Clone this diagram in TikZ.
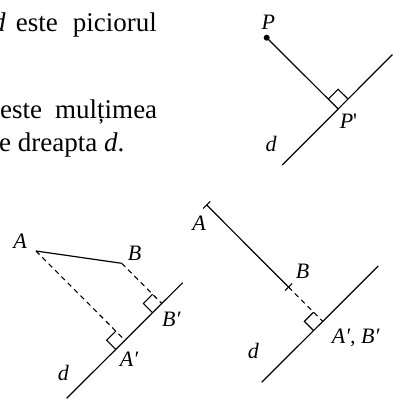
\documentclass[tikz,border=0pt]{standalone}
\usepackage{fontspec}
\setmainfont{Liberation Serif}
\usetikzlibrary{calc}
\begin{document}
\begin{tikzpicture}[x=1pt,y=-1pt,
  ln/.style={line width=1.2pt},
  dsh/.style={line width=1.1pt, dash pattern=on 5pt off 4pt},
  mk/.style={line width=1.1pt},
  lbl/.style={inner sep=0pt, font=\fontsize{22}{26}\selectfont\itshape},
  txt/.style={inner sep=0pt, font=\fontsize{27}{34}\selectfont}]
\useasboundingbox (0,0) rectangle (393,400);

% paragraph text (cut at the left edge)
\node[txt, anchor=base west] (t0) at (-8,31) {\textit{d}};
\node[txt, anchor=base east] (t1) at (157,31) {\makebox[141pt][s]{este piciorul}};
\node[txt, anchor=base west] (t2) at (0,118) {\makebox[157pt][s]{este mulțimea}};
\node[txt, anchor=base west] (t3) at (-1,151) {e dreapta \textit{d}.};

% top right figure
\coordinate (d2a) at (282.3,165);
\coordinate (d2b) at (392.5,54.5);
\coordinate (P) at (266.7,37.7);
\coordinate (Pf) at ($(d2a)!(P)!(d2b)$);
\coordinate (Pq) at ($(Pf)!14pt!(P)$);
\coordinate (Pr) at ($(Pf)!14pt!(d2b)$);
\coordinate (Pc) at ($(Pq)+(Pr)-(Pf)$);
\draw[ln] (d2a) -- (d2b);
\draw[ln] (P) -- (Pf);
\fill (P) circle (3pt);
\draw[mk] (Pq) -- (Pc) -- (Pr);
\node[lbl] (Pl) at (268.3,22.5) {P};
\node[lbl] (Ppl) at (348.5,121) {P\upshape\textquotesingle};
\node[lbl] (dl2) at (271,144) {d};

% bottom left figure
\coordinate (d1a) at (66.7,398.3);
\coordinate (d1b) at (182.7,282.7);
\coordinate (A1) at (36,251);
\coordinate (B1) at (121.7,263.3);
\coordinate (A1f) at ($(d1a)!(A1)!(d1b)$);
\coordinate (B1f) at ($(d1a)!(B1)!(d1b)$);
\coordinate (A1q) at ($(A1f)!13pt!(A1)$);
\coordinate (A1r) at ($(A1f)!13pt!(d1a)$);
\coordinate (A1c) at ($(A1q)+(A1r)-(A1f)$);
\coordinate (B1q) at ($(B1f)!13pt!(B1)$);
\coordinate (B1r) at ($(B1f)!13pt!(d1a)$);
\coordinate (B1c) at ($(B1q)+(B1r)-(B1f)$);
\draw[ln] (d1a) -- (d1b);
\draw[ln] (A1) -- (B1);
\draw[dsh] (A1) -- (A1f);
\draw[dsh] (B1) -- (B1f);
\draw[mk] (A1q) -- (A1c) -- (A1r);
\draw[mk] (B1q) -- (B1c) -- (B1r);
\node[lbl] (A1l) at (20,241.7) {A};
\node[lbl] (B1l) at (134.7,253.3) {B};
\node[lbl] (B1pl) at (171.3,319) {B′};
\node[lbl] (A1pl) at (129,359) {A′};
\node[lbl] (dl1) at (63.3,372.5) {d};

% bottom right figure
\coordinate (d3a) at (261.7,382.3);
\coordinate (d3b) at (378.3,266);
\coordinate (A3) at (206.7,205);
\coordinate (A3f) at ($(d3a)!(A3)!(d3b)$);
\coordinate (B3) at ($(A3)!0.705!(A3f)$);
\coordinate (A3q) at ($(A3f)!13pt!(A3)$);
\coordinate (A3r) at ($(A3f)!13pt!(d3a)$);
\coordinate (A3c) at ($(A3q)+(A3r)-(A3f)$);
\draw[ln] (d3a) -- (d3b);
\draw[ln] (A3) -- (B3);
\draw[dsh] (B3) -- (A3f);
\draw[mk] ($(A3)!5pt!90:(A3f)$) -- ($(A3)!5pt!-90:(A3f)$);
\draw[mk] ($(B3)!5pt!90:(A3f)$) -- ($(B3)!5pt!-90:(A3f)$);
\draw[mk] (A3q) -- (A3c) -- (A3r);
\node[lbl] (A3l) at (199,223.3) {A};
\node[lbl] (B3l) at (302.5,271.3) {B};
\node[lbl, anchor=west] (AB3l) at (331.7,338.3) {A′, B′};
\node[lbl] (dl3) at (253.3,350.8) {d};
\end{tikzpicture}
\end{document}
